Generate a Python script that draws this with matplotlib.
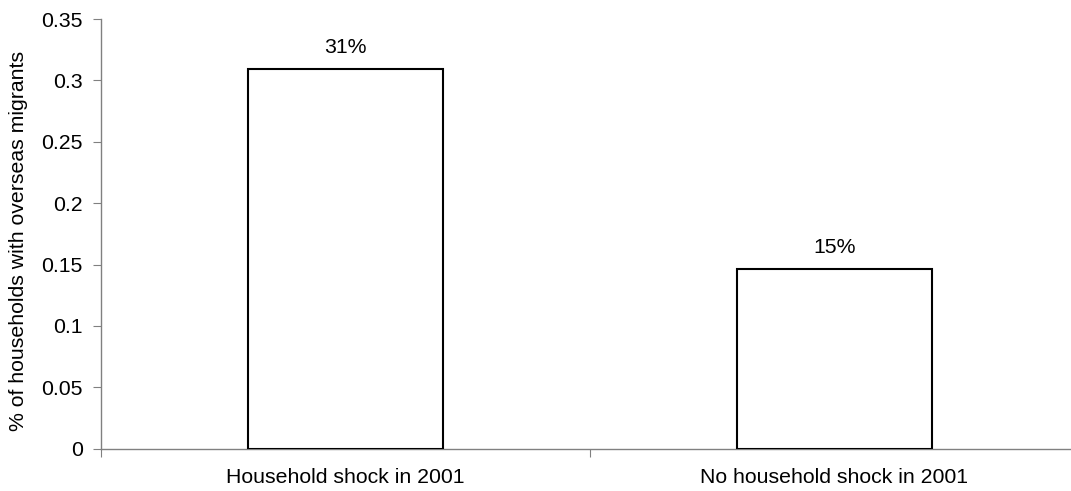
import matplotlib.pyplot as plt

# share of households with at least one overseas migrant
groups = ["Household shock in 2001", "No household shock in 2001"]
share = [0.309, 0.146]
y_ticks = [0, 0.05, 0.1, 0.15, 0.2, 0.25, 0.3, 0.35]
y_tick_labels = ["0", "0.05", "0.1", "0.15", "0.2", "0.25", "0.3", "0.35"]

plt.rcParams["font.family"] = ["Liberation Sans", "DejaVu Sans"]
plt.rcParams["font.size"] = 15.3

fig = plt.figure(figsize=(10.71, 4.91), dpi=100)
ax = fig.add_axes([101 / 1071, 1 - 448.7 / 491, 978 / 1071, 429.7 / 491])

x = range(len(groups))
ax.bar(x, share, width=0.4, color="white", edgecolor="black", linewidth=1.5, zorder=3)

for i, v in enumerate(share):
    ax.text(i, v + 0.013, f"{v:.0%}", ha="center", va="baseline")

ax.set_xlim(-0.5, 1.5)
ax.set_ylim(0, 0.35)
ax.set_yticks(y_ticks)
ax.set_yticklabels(y_tick_labels)

# category labels centred under the bars, tick marks between categories
ax.set_xticks([-0.5, 0.5, 1.5])
ax.set_xticklabels([])
ax.set_xticks(list(x), minor=True)
ax.set_xticklabels(groups, minor=True)
ax.tick_params(axis="x", which="minor", length=0, pad=14)
ax.tick_params(axis="x", which="major", direction="out", length=6, color="#808080")
ax.tick_params(axis="y", direction="out", length=6, color="#808080", pad=7)

for side in ["top", "right"]:
    ax.spines[side].set_visible(False)
for side in ["left", "bottom"]:
    ax.spines[side].set_color("#808080")
    ax.spines[side].set_linewidth(1)

ax.set_ylabel("% of households with overseas migrants", va="center")
ax.yaxis.set_label_coords((19 - 101) / 978, 0.483)

plt.savefig("out.png", dpi=100)
plt.close()
